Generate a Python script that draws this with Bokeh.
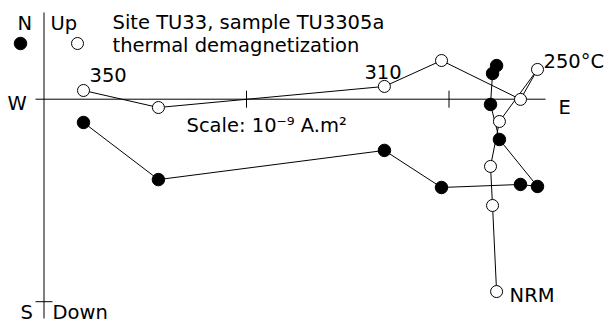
from bokeh.plotting import figure
from bokeh.models import Range1d
from bokeh.embed import file_html
from bokeh.resources import INLINE
from bokeh.core.properties import value

# ---- data (units of 1e-9 A.m^2) ----
STEPS = ["NRM", "", "", "", "250°C", "", "", "310", "", "350"]
EAST = [2.235, 2.215, 2.205, 2.249, 2.437, 2.353, 1.963, 1.681, 0.565, 0.195]
UP = [-0.950, -0.525, -0.332, -0.110, 0.147, -0.001, 0.191, 0.063, -0.041, 0.043]
NORTH = [0.166, 0.127, -0.026, -0.199, -0.431, -0.421, -0.436, -0.253, -0.397, -0.115]
TICKS_X = [1, 2]
TICKS_Y = [-1]

# ---- layout ----
W, H = 607, 324
UNIT = 202.5            # px per 1e-9 A.m^2
OX, OY = 43.5, 98.7     # picture px of the origin
PAGE = 0
FONT = value("DejaVu Sans")
FS = "19.5px"
TDY = -4                # text baseline correction (px, up is negative)


def pg(px, py):
    return ((px - OX) / UNIT, (OY - py) / UNIT)


def d(px):
    return px / UNIT


x0, y1 = pg(PAGE, PAGE)
x1, y0 = pg(PAGE + W, PAGE + H)

p = figure(width=W, height=H, x_range=Range1d(x0, x1), y_range=Range1d(y0, y1),
           x_axis_type=None, y_axis_type=None, toolbar_location=None,
           output_backend="svg", min_border=0, outline_line_color=None,
           background_fill_color="white", border_fill_color="white")
p.grid.visible = False

# axes cross
ax_l, _ = pg(35, 0)
ax_r, _ = pg(545, 0)
_, ax_t = pg(0, 12)
_, ax_b = pg(0, 318)
p.segment(x0=[ax_l, 0], y0=[0, ax_t], x1=[ax_r, 0], y1=[0, ax_b], line_color="black", line_width=1)
tk = d(8.5)
p.segment(x0=TICKS_X, y0=[-tk] * len(TICKS_X), x1=TICKS_X, y1=[tk] * len(TICKS_X),
          line_color="black", line_width=1)
p.segment(x0=[-tk] * len(TICKS_Y), y0=TICKS_Y, x1=[tk] * len(TICKS_Y), y1=TICKS_Y,
          line_color="black", line_width=1)

# paths
p.line(EAST, NORTH, line_color="black", line_width=1)
p.line(EAST, UP, line_color="black", line_width=1)
p.scatter(EAST, NORTH, size=12.5, marker="circle", fill_color="black", line_color="black")
p.scatter(EAST, UP, size=12, marker="circle", fill_color="white", line_color="black", line_width=1)

# legend symbols
lx1, ly = pg(20, 43)
lx2, _ = pg(77, 43)
p.scatter([lx1], [ly], size=12.5, marker="circle", fill_color="black", line_color="black")
p.scatter([lx2], [ly], size=12, marker="circle", fill_color="white", line_color="black")

# step labels
OFFS = {"NRM": (13, 8), "250°C": (6, -4), "310": (-20, -10), "350": (6, -11)}
sx, sy, st = [], [], []
for e, u, s in zip(EAST, UP, STEPS):
    if s:
        ox, oy = OFFS[s]
        sx.append(e + d(ox))
        sy.append(u - d(oy + TDY))
        st.append(s)
p.text(x=sx, y=sy, text=st, text_font=FONT, text_font_size=FS,
       text_baseline="alphabetic", text_align="left", text_color="black")

# fixed texts
TEXTS = [
    ("N", 17, 27), ("Up", 50, 27),
    ("Site TU33, sample TU3305a", 112, 26),
    ("thermal demagnetization", 112, 49),
    ("W", 7, 107), ("E", 558, 111),
    ("S", 20, 316), ("Down", 52, 316),
    ("Scale: 10⁻⁹ A.m²", 186, 129),
]
tx, ty, tt = [], [], []
for t, px, py in TEXTS:
    a, b = pg(px, py + TDY)
    tx.append(a)
    ty.append(b)
    tt.append(t)
p.text(x=tx, y=ty, text=tt, text_font=FONT, text_font_size=FS,
       text_baseline="alphabetic", text_align="left", text_color="black")

open("out.html", "w").write(file_html(p, INLINE))
